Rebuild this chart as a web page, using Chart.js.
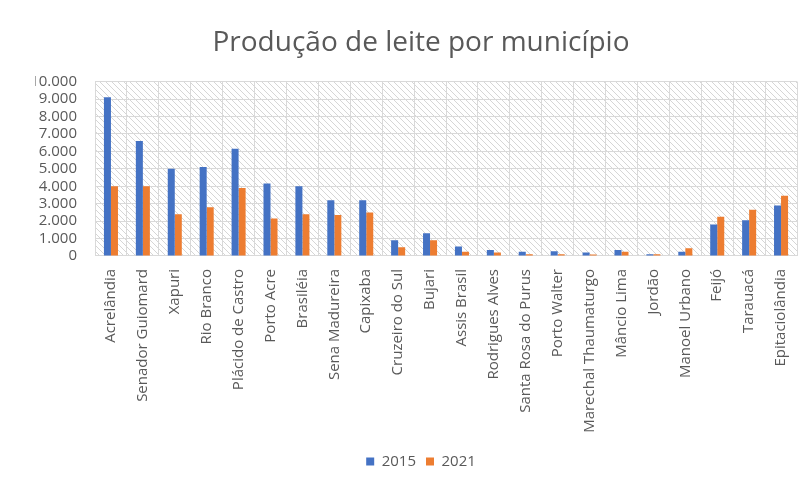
<!DOCTYPE html>
<html>
<head>
<meta charset="utf-8">
<script src="https://cdn.jsdelivr.net/npm/chart.js@4/dist/chart.umd.min.js"></script>
<style>
  html, body { margin: 0; padding: 0; background: #fff; overflow: hidden; }
  #wrap { position: absolute; left: 0; top: 0; width: 842px; height: 485px; }
</style>
</head>
<body>
<div id="wrap"><canvas id="leiteChart"></canvas></div>
<script>
const municipios = [
    "Acrelândia", "Senador Guiomard", "Xapuri", "Rio Branco", "Plácido de Castro",
    "Porto Acre", "Brasiléia", "Sena Madureira", "Capixaba", "Cruzeiro do Sul",
    "Bujari", "Assis Brasil", "Rodrigues Alves", "Santa Rosa do Purus", "Porto Walter",
    "Marechal Thaumaturgo", "Mâncio Lima", "Jordão", "Manoel Urbano", "Feijó",
    "Tarauacá", "Epitaciolândia"
];
const producao2015 = [9100, 6600, 5000, 5100, 6150, 4150, 4000, 3200, 3200, 900,
                      1300, 550, 350, 250, 270, 200, 350, 100, 250, 1800, 2050, 2900];
const producao2021 = [4000, 4000, 2400, 2800, 3900, 2150, 2400, 2350, 2500, 500,
                      900, 250, 200, 100, 100, 80, 250, 100, 450, 2250, 2650, 3450];

// fundo hachurado da área do gráfico
function hatch() {
    const c = document.createElement("canvas");
    c.width = 6; c.height = 6;
    const g = c.getContext("2d");
    g.fillStyle = "#ffffff";
    g.fillRect(0, 0, 6, 6);
    g.strokeStyle = "#d6d6d6";
    g.lineWidth = 1;
    g.beginPath();
    g.moveTo(0, 0); g.lineTo(6, 6);
    g.moveTo(-3, 3); g.lineTo(3, 9);
    g.moveTo(3, -3); g.lineTo(9, 3);
    g.stroke();
    return c;
}

const fundo = {
    id: "fundo",
    beforeDraw(chart) {
        const { ctx, chartArea: a } = chart;
        ctx.save();
        ctx.fillStyle = ctx.createPattern(hatch(), "repeat");
        ctx.fillRect(a.left, a.top, a.right - a.left, a.bottom - a.top);
        ctx.restore();
    }
};

const cinza = "#595959";

new Chart(document.getElementById("leiteChart"), {
    type: "bar",
    data: {
        labels: municipios,
        datasets: [
            { label: "2015", data: producao2015, backgroundColor: "#4472C4" },
            { label: "2021", data: producao2021, backgroundColor: "#ED7D31" }
        ]
    },
    options: {
        responsive: true,
        maintainAspectRatio: false,
        animation: false,
        layout: { padding: { left: 35, right: 35, top: 0, bottom: 6 } },
        datasets: { bar: { categoryPercentage: 0.44, barPercentage: 1 } },
        plugins: {
            title: {
                display: true,
                text: "Produção de leite por município",
                color: cinza,
                font: { family: "Open Sans", size: 28, weight: "normal" },
                padding: { top: 26, bottom: 22 }
            },
            legend: {
                position: "bottom",
                labels: {
                    color: cinza,
                    font: { family: "Open Sans", size: 15 },
                    boxWidth: 8,
                    boxHeight: 8,
                    padding: 10
                }
            },
            tooltip: { enabled: false }
        },
        scales: {
            x: {
                grid: { color: "#d9d9d9", drawTicks: false },
                border: { color: "#d9d9d9" },
                ticks: {
                    color: cinza,
                    font: { family: "Open Sans", size: 15 },
                    minRotation: 90,
                    maxRotation: 90,
                    padding: 13,
                    autoSkip: false
                },
                afterFit(s) { s.height = 188; }
            },
            y: {
                min: 0,
                max: 10000,
                grid: { color: "#d9d9d9", drawTicks: false },
                border: { display: false },
                ticks: {
                    stepSize: 1000,
                    autoSkip: false,
                    color: cinza,
                    font: { family: "Open Sans", size: 15 },
                    padding: 18,
                    callback: v => v.toLocaleString("pt-BR")
                },
                afterFit(s) { s.width = 60; }
            },
            // eixo vazio à direita, só para deixar a margem
            margem: {
                position: "right",
                grid: { display: false },
                border: { display: false },
                ticks: { display: false },
                afterFit(s) { s.width = 10; }
            }
        }
    },
    plugins: [fundo]
});
</script>
</body>
</html>
